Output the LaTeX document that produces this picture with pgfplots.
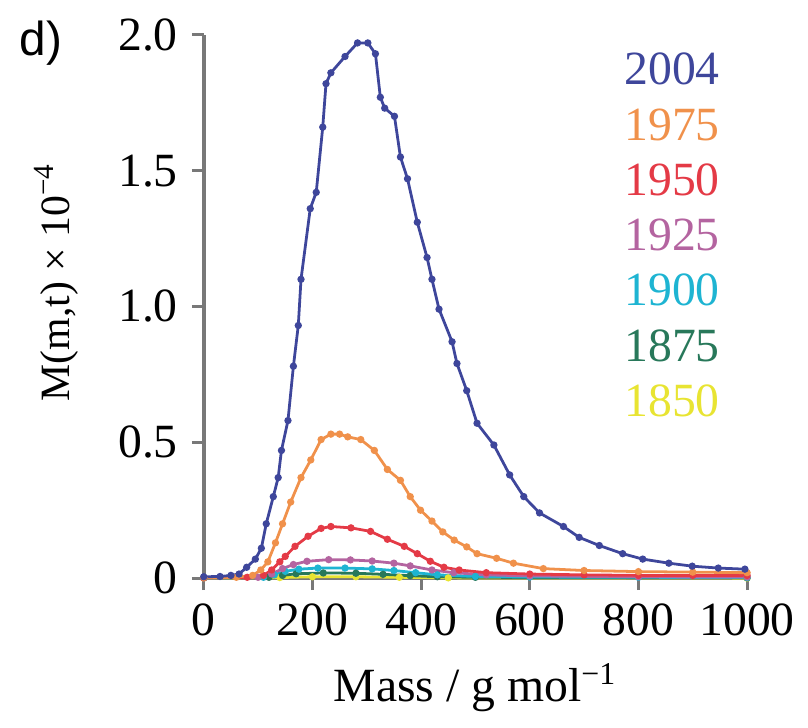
\documentclass[border=0pt]{standalone}
\usepackage{fontspec}
\setmainfont{Liberation Serif}
\newfontfamily\sansf{Liberation Sans}
\usepackage{pgfplots}
\pgfplotsset{compat=1.18}
\definecolor{c2004}{RGB}{62,70,155}
\definecolor{c1975}{RGB}{240,145,75}
\definecolor{c1950}{RGB}{228,58,70}
\definecolor{c1925}{RGB}{180,100,160}
\definecolor{c1900}{RGB}{30,180,210}
\definecolor{c1875}{RGB}{40,120,90}
\definecolor{c1850}{RGB}{232,228,50}
\definecolor{axgray}{RGB}{120,120,120}
\begin{document}
\begin{tikzpicture}[font=\fontsize{12}{14}\selectfont]
\begin{axis}[
  scale only axis, width=136.75pt, height=136.75pt,
  xmin=0, xmax=1000, ymin=0, ymax=2.0,
  axis x line*=bottom, axis y line*=left,
  axis line style={axgray, line width=1pt},
  tick align=outside, major tick length=3pt,
  tick style={axgray, line width=0.8pt},
  xtick={0,200,400,600,800,1000},
  ytick={0,0.5,1,1.5,2}, yticklabels={0,0.5,1.0,1.5,2.0},
  /pgf/number format/assume math mode=true,
  /pgf/number format/1000 sep={},
  xlabel={Mass / g mol\textsuperscript{−1}},
  ylabel={M(m,t) × 10\textsuperscript{−4}},
  every axis y label/.style={at={(rel axis cs:-0.272,0.545)}, rotate=90, anchor=center, font=\fontsize{10.5}{12}\selectfont},
  clip=false,
  every axis plot/.append style={line width=0.7pt, mark=*, mark size=0.55pt},
  legend image code/.code={},
  legend cell align=center,
  reverse legend,
  legend style={draw=none, fill=none, at={(0.862,0.997)}, anchor=north,
    nodes={inner sep=2pt}, row sep=0.45pt, font=\fontsize{12}{14}\selectfont},
]
\addplot[c1850] coordinates {(0,0) (140,0.002) (200,0.005) (280,0.005) (360,0.003) (450,0.001) (1000,0)};
\addlegendentry{\textcolor{c1850}{1850}}
\addplot[c1875] coordinates {(0,0.001) (120,0.003) (145,0.01) (170,0.016) (220,0.019) (280,0.018) (330,0.014) (380,0.009) (430,0.005) (500,0.003) (1000,0.001)};
\addlegendentry{\textcolor{c1875}{1875}}
\addplot[c1900] coordinates {(0,0.001) (110,0.003) (130,0.012) (150,0.025) (175,0.033) (210,0.037) (260,0.037) (310,0.034) (350,0.028) (390,0.02) (430,0.012) (500,0.006) (600,0.004) (800,0.003) (1000,0.002)};
\addlegendentry{\textcolor{c1900}{1900}}
\addplot[c1925] coordinates {(0,0.001) (100,0.003) (125,0.015) (145,0.035) (165,0.05) (190,0.062) (230,0.068) (270,0.067) (310,0.063) (350,0.055) (380,0.045) (420,0.03) (460,0.02) (520,0.012) (600,0.008) (800,0.005) (1000,0.004)};
\addlegendentry{\textcolor{c1925}{1925}}
\addplot[c1950] coordinates {(0,0.001) (80,0.003) (110,0.01) (125,0.03) (140,0.06) (150,0.08) (168,0.117) (192,0.154) (216,0.183) (234,0.19) (271,0.185) (307,0.172) (338,0.143) (369,0.117) (393,0.09) (417,0.062) (442,0.04) (470,0.03) (520,0.02) (600,0.015) (700,0.012) (800,0.01) (900,0.01) (1000,0.01)};
\addlegendentry{\textcolor{c1950}{1950}}
\addplot[c1975] coordinates {(0,0.002) (60,0.003) (90,0.01) (105,0.03) (118,0.06) (132,0.13) (145,0.2) (160,0.28) (179,0.37) (197,0.435) (216,0.51) (234,0.53) (250,0.53) (265,0.52) (289,0.51) (314,0.47) (338,0.4) (362,0.36) (380,0.3) (399,0.25) (420,0.21) (440,0.17) (461,0.14) (484,0.115) (503,0.09) (539,0.073) (570,0.055) (625,0.035) (700,0.028) (800,0.024) (900,0.022) (1000,0.02)};
\addlegendentry{\textcolor{c1975}{1975}}
\addplot[c2004] coordinates {(0,0.005) (30,0.006) (50,0.01) (65,0.015) (79,0.04) (95,0.07) (106,0.11) (115,0.2) (128,0.3) (137,0.37) (143,0.47) (155,0.58) (165,0.78) (174,0.93) (179,1.1) (196,1.36) (207,1.42) (219,1.66) (225,1.82) (234,1.86) (260,1.92) (283,1.97) (302,1.97) (316,1.93) (325,1.77) (333,1.73) (351,1.7) (362,1.55) (375,1.47) (393,1.31) (411,1.18) (420,1.1) (433,0.99) (457,0.87) (466,0.79) (484,0.69) (503,0.57) (534,0.49) (563,0.38) (589,0.3) (618,0.24) (662,0.19) (691,0.15) (728,0.12) (771,0.09) (808,0.07) (856,0.055) (899,0.044) (947,0.037) (996,0.033)};
\addlegendentry{\textcolor{c2004}{2004}}
\node[font=\sansf\fontsize{12}{14}\selectfont] at (rel axis cs:-0.30,0.985) {d)};
\path (rel axis cs:-0.375,-0.274) rectangle (rel axis cs:1.1024,1.064);
\end{axis}
\end{tikzpicture}
\end{document}
